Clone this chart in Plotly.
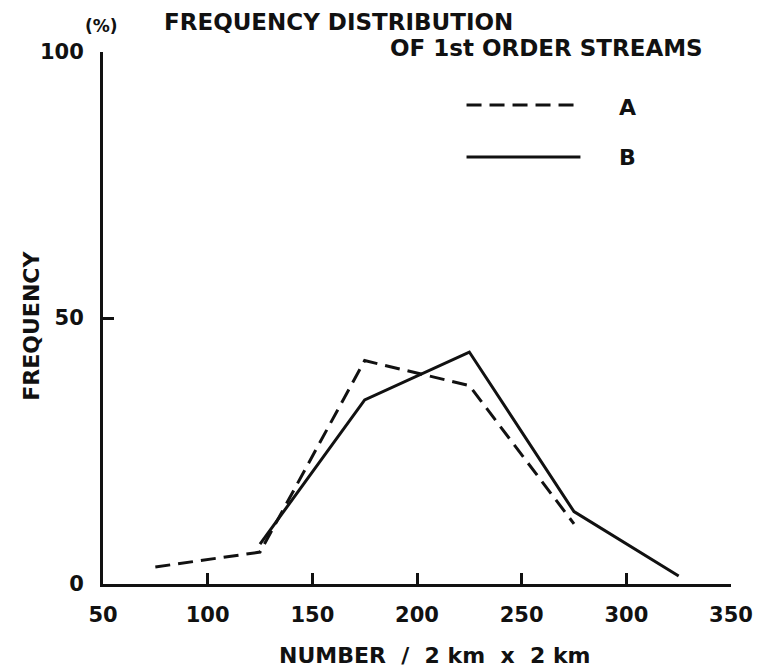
import plotly.graph_objects as go

# ---- data ----
x_a = [75, 125, 175, 225, 275]
y_a = [3.2, 6.0, 42.0, 37.3, 11.3]
x_b = [125, 175, 225, 275, 325]
y_b = [7.5, 34.6, 43.6, 13.6, 1.5]
x_ticks = [50, 100, 150, 200, 250, 300, 350]
y_ticks = [0, 50, 100]
series_names = ["A", "B"]
title_lines = ["FREQUENCY DISTRIBUTION", "OF 1st ORDER STREAMS"]
x_title = "NUMBER\u00a0 /\u00a0 2 km\u00a0 x\u00a0 2 km"
y_title = "FREQUENCY"
y_unit = "(%)"

# the page body has a default 8px margin, so the figure is offset by 8px
OFF = 8
W, H = 765 - OFF, 669 - OFF
# plot area in screen pixels: x 103..737, y 52..584
L, T = 103 - OFF, 52 - OFF
R = W - (737 - OFF)
B = H - (584 - OFF)
PW, PH = W - L - R, H - T - B

def px(xs):
    return (xs - OFF - L) / PW

def py(ys):
    return 1 - (ys - OFF - T) / PH

FONT = "DejaVu Sans"
BLACK = "#111111"
DASH = "15px,8px"

fig = go.Figure()
fig.add_trace(go.Scatter(x=x_a, y=y_a, mode="lines", name=series_names[0],
                         line=dict(color=BLACK, width=3, dash=DASH), showlegend=False))
fig.add_trace(go.Scatter(x=x_b, y=y_b, mode="lines", name=series_names[1],
                         line=dict(color=BLACK, width=3), showlegend=False))

axis_common = dict(showgrid=False, zeroline=False, showline=True, linecolor=BLACK,
                   linewidth=3, ticks="inside", ticklen=11, tickwidth=2.5,
                   tickcolor=BLACK, mirror=False,
                   tickfont=dict(family=FONT, size=21, color=BLACK, weight="bold"))

fig.update_xaxes(range=[50, 350], tickvals=x_ticks, ticktext=[str(v) for v in x_ticks],
                 ticklabelstandoff=10, **axis_common)
fig.update_yaxes(range=[0, 100], tickvals=y_ticks, ticktext=[str(v) for v in y_ticks],
                 ticklabelstandoff=12, **axis_common)

ann = []
tf = dict(family=FONT, size=22, color=BLACK, weight="bold")
hf = dict(family=FONT, size=23, color=BLACK, weight="bold")
ann.append(dict(text=title_lines[0], x=px(163), y=py(22), xref="paper", yref="paper",
                xanchor="left", yanchor="middle", showarrow=False, font=hf))
ann.append(dict(text=title_lines[1], x=px(391), y=py(48), xref="paper", yref="paper",
                xanchor="left", yanchor="middle", showarrow=False, font=hf))
ann.append(dict(text=y_unit, x=px(101), y=py(26), xref="paper", yref="paper",
                xanchor="center", yanchor="middle", showarrow=False,
                font=dict(family=FONT, size=17, color=BLACK, weight="bold")))
ann.append(dict(text=x_title, x=px(438), y=py(655), xref="paper", yref="paper",
                xanchor="center", yanchor="middle", showarrow=False, font=tf))
ann.append(dict(text=y_title, x=px(30), y=py(326), xref="paper", yref="paper",
                xanchor="center", yanchor="middle", showarrow=False, textangle=-90, font=tf))
# legend labels
ann.append(dict(text=series_names[0], x=px(633), y=py(107), xref="paper", yref="paper",
                xanchor="center", yanchor="middle", showarrow=False, font=tf))
ann.append(dict(text=series_names[1], x=px(633), y=py(157), xref="paper", yref="paper",
                xanchor="center", yanchor="middle", showarrow=False, font=tf))

shapes = [
    dict(type="line", xref="paper", yref="paper", x0=px(470), x1=px(585), y0=py(105), y1=py(105),
         line=dict(color=BLACK, width=3, dash=DASH)),
    dict(type="line", xref="paper", yref="paper", x0=px(470), x1=px(585), y0=py(157), y1=py(157),
         line=dict(color=BLACK, width=3)),
]

fig.update_layout(width=W, height=H, margin=dict(l=L, r=R, t=T, b=B),
                  paper_bgcolor="white", plot_bgcolor="white",
                  annotations=ann, shapes=shapes, showlegend=False)

fig.write_html("out.html")
